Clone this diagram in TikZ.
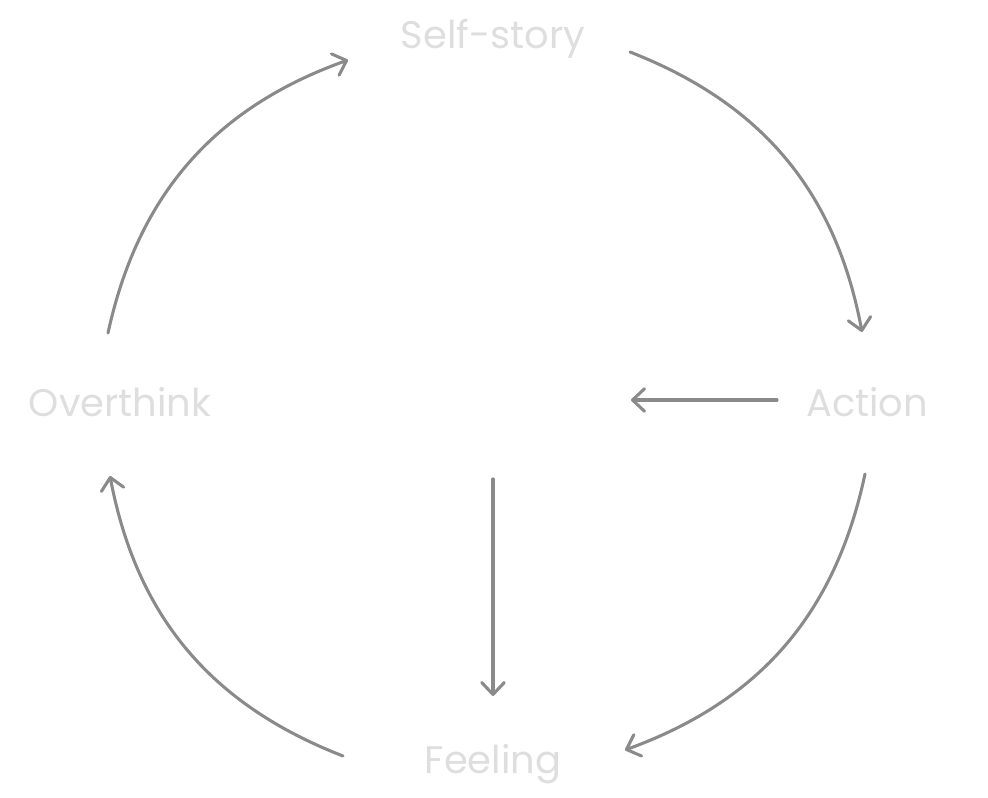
\documentclass[tikz,border=0pt]{standalone}
\usepackage{fontspec}
\setmainfont{Poppins}
\usetikzlibrary{arrows.meta}
\definecolor{labelgray}{HTML}{DEDEDE}
\definecolor{linegray}{HTML}{8A8A8A}
\begin{document}
\begin{tikzpicture}[x=0.75pt,y=-0.75pt,
  lbl/.style={text=labelgray,font=\fontsize{28.8}{32}\selectfont,inner sep=0pt},
  conn/.style={draw=linegray,line width=2.3pt,line cap=round,
    -{Straight Barb[length=9pt,width=17pt,line width=2.3pt,round]}}]
\useasboundingbox (0,0) rectangle (988,798);
\node[lbl] (self) at (493,39) {Self-story};
\node[lbl] (action) at (867,402) {Action};
\node[lbl] (feel) at (493,764) {Feeling};
\node[lbl] (over) at (120,402) {Overthink};
\coordinate (s1) at (630,52);
\coordinate (a0) at (862,332);
\coordinate (a1) at (865,474);
\coordinate (f0) at (625,750);
\coordinate (f1) at (343,756);
\coordinate (o0) at (110,476);
\coordinate (o1) at (108,333);
\coordinate (s0) at (348,60);
\coordinate (h1) at (777,400);
\coordinate (h0) at (631,400);
\coordinate (v1) at (493,479);
\coordinate (v0) at (493,696);
\draw[conn] (s1) to[bend left=29] (a0);
\draw[conn] (a1) to[bend left=29] (f0);
\draw[conn] (f1) to[bend left=29] (o0);
\draw[conn] (o1) to[bend left=29] (s0);
\draw[conn] (h1) -- (h0);
\draw[conn] (v1) -- (v0);
\end{tikzpicture}
\end{document}
